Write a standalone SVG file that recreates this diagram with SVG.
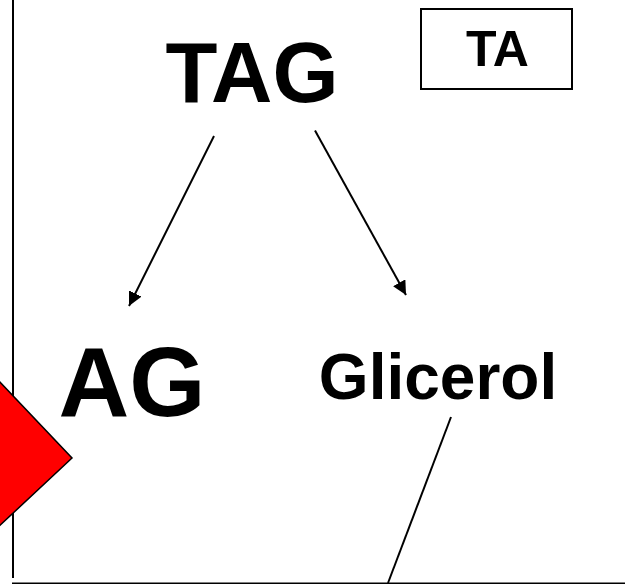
<svg xmlns="http://www.w3.org/2000/svg" width="625" height="584" viewBox="0 0 625 584">
  <style>
    .lbl { font-family: "Liberation Sans", Arial, sans-serif; font-weight: bold; fill: #000; text-anchor: middle; }
    .conn { stroke: #000; stroke-width: 2; fill: none; }
    .frame { stroke: #000; stroke-width: 2; fill: none; }
  </style>
  <defs>
    <marker id="arrow" viewBox="0 0 10 10" refX="10" refY="5" markerWidth="7" markerHeight="7" markerUnits="strokeWidth" orient="auto">
      <path d="M0,0 L10,5 L0,10 Z" fill="#000"/>
    </marker>
  </defs>
  <rect width="625" height="584" fill="#fff"/>
  <g id="frame">
    <line class="frame" x1="13" y1="0" x2="13" y2="578"/>
    <line class="frame" x1="12" y1="583.5" x2="625" y2="583.5"/>
  </g>
  <g id="diamond">
    <polygon points="-20,361 72,458 -20,544" fill="#ff0000" stroke="#000" stroke-width="1.5"/>
  </g>
  <g id="node-TAG">
    <text class="lbl" x="252" y="102" font-size="85">TAG</text>
  </g>
  <g id="node-TA">
    <rect x="421" y="9" width="151" height="80" fill="#fff" stroke="#000" stroke-width="2"/>
    <text class="lbl" x="497.5" y="66" font-size="50">TA</text>
  </g>
  <g id="node-AG">
    <text class="lbl" x="132" y="416" font-size="98">AG</text>
  </g>
  <g id="node-Glicerol">
    <text class="lbl" x="438" y="399" font-size="64">Glicerol</text>
  </g>
  <g id="connectors">
    <line class="conn" x1="214" y1="136" x2="129" y2="306" marker-end="url(#arrow)"/>
    <line class="conn" x1="315" y1="130.5" x2="406" y2="295" marker-end="url(#arrow)"/>
    <line class="conn" x1="451" y1="417" x2="388" y2="583"/>
  </g>
</svg>
